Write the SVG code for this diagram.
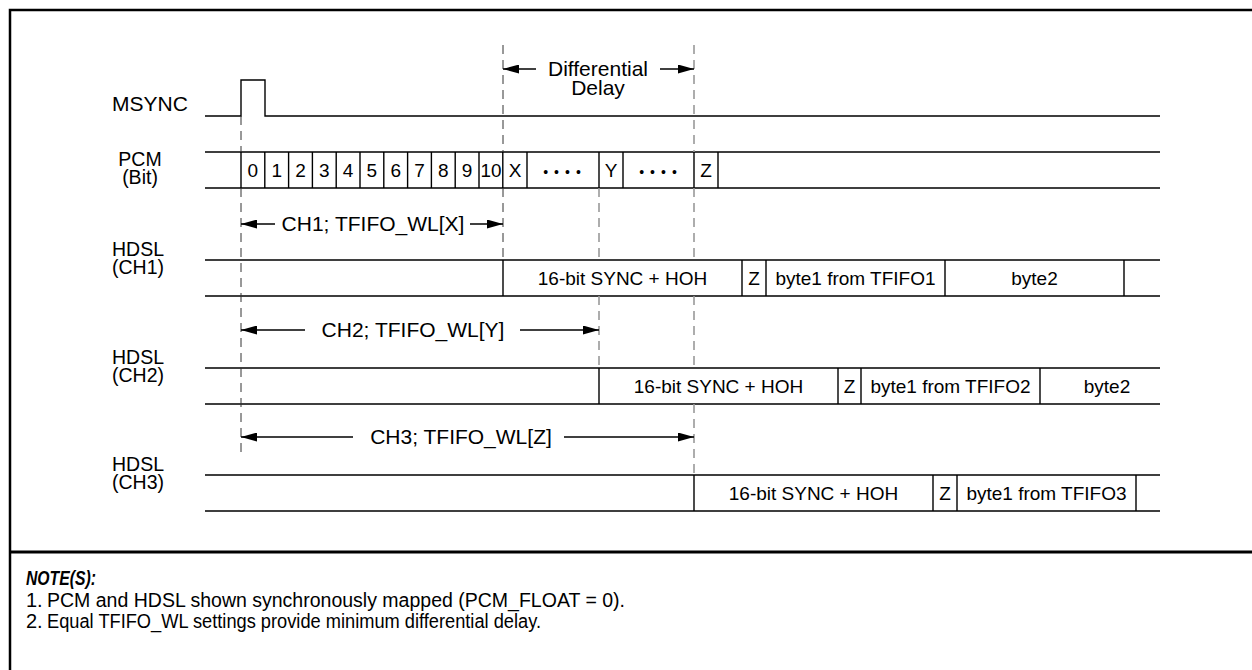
<svg xmlns="http://www.w3.org/2000/svg" width="1252" height="670" viewBox="0 0 1252 670">
<defs>
<marker id="ah" viewBox="0 0 16 9" refX="16" refY="4.5" markerWidth="16" markerHeight="9" markerUnits="userSpaceOnUse" orient="auto-start-reverse"><path d="M0,0 L16,4.5 L0,9 z" fill="#000"/></marker>
</defs>
<style>
.ln{stroke:#000;stroke-width:1.4;fill:none}
.lbl{font-family:"Liberation Sans",Arial,sans-serif;font-size:21px;fill:#000;text-anchor:middle}
.lb2{font-family:"Liberation Sans",Arial,sans-serif;font-size:19.5px;fill:#000;text-anchor:middle}
.bt{font-family:"Liberation Sans",Arial,sans-serif;font-size:19px;fill:#000;text-anchor:middle}
.dk{stroke:#333;stroke-width:1;stroke-dasharray:9,6;fill:none}
.dg{stroke:#999;stroke-width:1.6;stroke-dasharray:9,6;fill:none}
.arr{stroke:#000;stroke-width:1.3;fill:none;marker-end:url(#ah)}
.note{font-family:"Liberation Sans",Arial,sans-serif;font-size:20px;fill:#000}
</style>
<rect width="1252" height="670" fill="#fff"/>
<g id="frame">
<path d="M10,670 V10 H1252" stroke="#000" stroke-width="2.5" fill="none"/>
<line x1="10" y1="552" x2="1252" y2="552" stroke="#000" stroke-width="3"/>
</g>
<g id="msync">
<text class="lbl" x="150" y="111">MSYNC</text>
<path class="ln" d="M205,116 H241 V80 H265 V116 H1160"/>
</g>
<g id="pcm">
<text class="lb2" x="140" y="166">PCM<tspan x="140" dy="18">(Bit)</tspan></text>
<path class="ln" d="M205,152 H1160 M205,188 H1160 M241,152 V188 M264.8,152 V188 M288.6,152 V188 M312.4,152 V188 M336.2,152 V188 M360,152 V188 M383.8,152 V188 M407.6,152 V188 M431.4,152 V188 M455.2,152 V188 M479,152 V188 M502.8,152 V188 M527,152 V188 M599,152 V188 M623,152 V188 M694,152 V188 M718,152 V188"/>
<g class="bt">
<text x="252.9" y="177">0</text><text x="276.7" y="177">1</text><text x="300.5" y="177">2</text><text x="324.3" y="177">3</text><text x="348.1" y="177">4</text><text x="371.9" y="177">5</text><text x="395.7" y="177">6</text><text x="419.5" y="177">7</text><text x="443.3" y="177">8</text><text x="467.1" y="177">9</text><text x="490.9" y="177" textLength="21" lengthAdjust="spacingAndGlyphs">10</text><text x="515" y="177">X</text>
<text x="565" y="177" font-size="14" letter-spacing="6">••••</text>
<text x="611" y="177">Y</text>
<text x="661" y="177" font-size="14" letter-spacing="6">••••</text>
<text x="706" y="177">Z</text>
</g>
</g>
<g id="hdsl-ch1">
<text class="lb2" x="138" y="256">HDSL<tspan x="138" dy="18">(CH1)</tspan></text>
<path class="ln" d="M205,260 H1160 M205,296 H1160 M503,260 V296 M742,260 V296 M766,260 V296 M945,260 V296 M1124,260 V296"/>
<text class="bt" x="622.5" y="285">16-bit SYNC + HOH</text>
<text class="bt" x="754" y="285">Z</text>
<text class="bt" x="855.5" y="285">byte1 from TFIFO1</text>
<text class="bt" x="1034.5" y="285">byte2</text>
</g>
<g id="hdsl-ch2">
<text class="lb2" x="138" y="364">HDSL<tspan x="138" dy="18">(CH2)</tspan></text>
<path class="ln" d="M205,368 H1160 M205,404 H1160 M599,368 V404 M838,368 V404 M861,368 V404 M1040,368 V404"/>
<text class="bt" x="718.5" y="393">16-bit SYNC + HOH</text>
<text class="bt" x="849.5" y="393">Z</text>
<text class="bt" x="950.5" y="393">byte1 from TFIFO2</text>
<text class="bt" x="1107" y="393">byte2</text>
</g>
<g id="hdsl-ch3">
<text class="lb2" x="138" y="471">HDSL<tspan x="138" dy="18">(CH3)</tspan></text>
<path class="ln" d="M205,475 H1160 M205,511 H1160 M694,475 V511 M933,475 V511 M957,475 V511 M1136,475 V511"/>
<text class="bt" x="813.5" y="500">16-bit SYNC + HOH</text>
<text class="bt" x="945" y="500">Z</text>
<text class="bt" x="1046.5" y="500">byte1 from TFIFO3</text>
</g>
<g id="connectors">
<path class="dk" d="M241,116 V152 M241,188 V458"/>
<path class="dk" d="M503,45 V152 M503,188 V260"/>
<path class="dg" d="M599,188 V260 M599,296 V368"/>
<path class="dg" d="M694,45 V152 M694,188 V260 M694,296 V368 M694,404 V475"/>
<line class="arr" x1="536" y1="69" x2="503" y2="69"/>
<line class="arr" x1="660" y1="69" x2="694" y2="69"/>
<line class="arr" x1="275" y1="224" x2="241" y2="224"/>
<line class="arr" x1="470" y1="224" x2="503" y2="224"/>
<line class="arr" x1="305" y1="330" x2="241" y2="330"/>
<line class="arr" x1="520" y1="330" x2="599" y2="330"/>
<line class="arr" x1="353" y1="437" x2="241" y2="437"/>
<line class="arr" x1="564" y1="437" x2="694" y2="437"/>
</g>
<g id="labels">
<text class="lbl" x="598" y="76">Differential<tspan x="598" dy="19">Delay</tspan></text>
<text class="lbl" x="373" y="231">CH1; TFIFO_WL[X]</text>
<text class="lbl" x="413" y="337">CH2; TFIFO_WL[Y]</text>
<text class="lbl" x="461" y="444">CH3; TFIFO_WL[Z]</text>
</g>
<g id="notes">
<text class="note" x="26" y="585" font-weight="bold" font-style="italic" textLength="70" lengthAdjust="spacingAndGlyphs">NOTE(S):</text>
<text class="note" x="26" y="607">1.</text>
<text class="note" x="47" y="607" textLength="578" lengthAdjust="spacingAndGlyphs">PCM and HDSL shown synchronously mapped (PCM_FLOAT = 0).</text>
<text class="note" x="26" y="628">2.</text>
<text class="note" x="47" y="628" textLength="494" lengthAdjust="spacingAndGlyphs">Equal TFIFO_WL settings provide minimum differential delay.</text>
</g>
</svg>
